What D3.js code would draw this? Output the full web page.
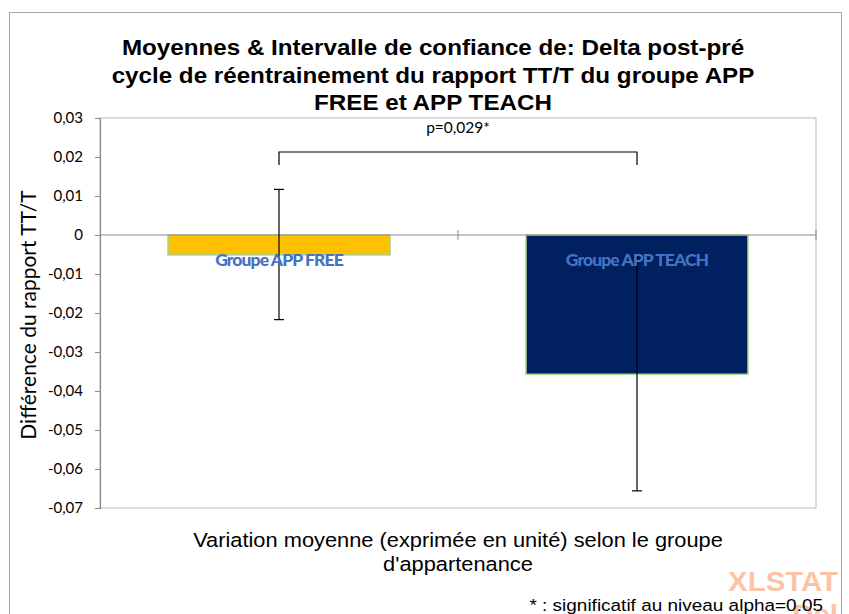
<!DOCTYPE html>
<html><head><meta charset="utf-8">
<script src="https://cdn.jsdelivr.net/npm/d3@7"></script>
<style>body{margin:0;background:#fff;}svg{display:block;}</style>
</head><body>
<svg id="c" width="849" height="614"></svg>
<script>
const categories = ["Groupe APP FREE", "Groupe APP TEACH"];
const means = [-0.0051, -0.0357];
const ciLower = [-0.0217, -0.0656];
const ciUpper = [0.0117, -0.0058];
const yTicks = [0.03, 0.02, 0.01, 0, -0.01, -0.02, -0.03, -0.04, -0.05, -0.06, -0.07];
const barColors = ["#ffc000", "#002060"];
const pLabel = "p=0,029*";
const titleLines = ["Moyennes & Intervalle de confiance de: Delta post-pré", "cycle de réentrainement du rapport TT/T du groupe APP", "FREE et APP TEACH"];
const xTitleLines = ["Variation moyenne (exprimée en unité) selon le groupe", "d'appartenance"];
const yTitle = "Différence du rapport TT/T";
const note = "* : significatif au niveau alpha=0.05";

const svg = d3.select("#c");
const L = 100, R = 816, T = 118, B = 508;
const ARIAL = "'Liberation Sans', Arial, sans-serif";
const CALIBRI = "Lato, 'Open Sans', sans-serif";

// outer frame
svg.append("rect").attr("x", 9.5).attr("y", 12.5).attr("width", 832).attr("height", 620)
  .attr("fill", "none").attr("stroke", "#a6a6a6").attr("stroke-width", 1);

const y = d3.scaleLinear().domain([-0.07, 0.03]).range([B, T]);
const x = d3.scaleBand().domain(categories).range([L, R]).paddingInner(0.38).paddingOuter(0.19);

// plot border
svg.append("rect").attr("x", L).attr("y", T).attr("width", R - L).attr("height", B - T)
  .attr("fill", "none").attr("stroke", "#d0d0d0").attr("stroke-width", 1.5);

// y axis
const fmt = d => d === 0 ? "0" : d3.format(".2f")(d).replace(".", ",").replace("−", "-");
const ya = svg.append("g").attr("transform", `translate(${L},0)`)
  .call(d3.axisLeft(y).tickValues(yTicks).tickSize(5).tickPadding(12).tickFormat(fmt));
ya.select(".domain").attr("stroke", "#8c8c8c").attr("stroke-width", 1.2);
ya.selectAll(".tick line").attr("stroke", "#8c8c8c");
ya.selectAll(".tick text").attr("font-family", CALIBRI).attr("font-size", 15).attr("fill", "#000");

// bars
svg.selectAll("rect.bar").data(categories).enter().append("rect").attr("class", "bar")
  .attr("x", d => x(d)).attr("width", x.bandwidth())
  .attr("y", (d, i) => y(Math.max(0, means[i])))
  .attr("height", (d, i) => Math.abs(y(means[i]) - y(0)))
  .attr("fill", (d, i) => barColors[i]).attr("stroke", "#a9d18e").attr("stroke-width", 1.5);

// zero line with category ticks
svg.append("line").attr("x1", L).attr("x2", R).attr("y1", y(0)).attr("y2", y(0))
  .attr("stroke", "#8c8c8c").attr("stroke-width", 1.2);
const bounds = [x.step() + L, R];
svg.selectAll("line.ct").data(bounds).enter().append("line").attr("class", "ct")
  .attr("x1", d => d).attr("x2", d => d).attr("y1", y(0) - 5).attr("y2", y(0) + 5)
  .attr("stroke", "#8c8c8c").attr("stroke-width", 1);

// error bars
const cx = d => x(d) + x.bandwidth() / 2;
const eb = svg.selectAll("g.eb").data(categories).enter().append("g").attr("class", "eb");
eb.append("line").attr("x1", cx).attr("x2", cx).attr("y1", (d, i) => y(ciUpper[i])).attr("y2", (d, i) => y(ciLower[i]))
  .attr("stroke", "#000").attr("stroke-width", 1.2);
eb.append("line").attr("x1", d => cx(d) - 5).attr("x2", d => cx(d) + 5).attr("y1", (d, i) => y(ciUpper[i])).attr("y2", (d, i) => y(ciUpper[i]))
  .attr("stroke", "#000").attr("stroke-width", 1.2);
eb.append("line").attr("x1", d => cx(d) - 5).attr("x2", d => cx(d) + 5).attr("y1", (d, i) => y(ciLower[i])).attr("y2", (d, i) => y(ciLower[i]))
  .attr("stroke", "#000").attr("stroke-width", 1.2);

// bar labels
svg.selectAll("text.bl").data(categories).enter().append("text").attr("class", "bl")
  .attr("x", cx).attr("y", y(0) + 31).attr("text-anchor", "middle")
  .attr("font-family", CALIBRI).attr("font-weight", "900").attr("font-size", 17.5)
  .attr("letter-spacing", -0.9).attr("fill", "#4472c4").text(d => d);

// p-value bracket
const bx1 = cx(categories[0]), bx2 = cx(categories[1]);
const by = T + 34;
svg.append("path").attr("d", `M${bx1},${by + 13}V${by}H${bx2}V${by + 13}`)
  .attr("fill", "none").attr("stroke", "#000").attr("stroke-width", 1.2);
svg.append("text").attr("x", (bx1 + bx2) / 2).attr("y", T + 15).attr("text-anchor", "middle")
  .attr("font-family", CALIBRI).attr("font-size", 15.5).attr("fill", "#000").text(pLabel);

// helper for horizontally stretched text (Excel-like rendering)
function stretched(g, tx, ty, sx, txt, opts) {
  const t = g.append("text").attr("transform", `translate(${tx},${ty}) scale(${sx},1)`)
    .attr("text-anchor", opts.anchor || "middle").attr("font-family", ARIAL)
    .attr("font-size", opts.size).attr("fill", opts.fill || "#000").text(txt);
  if (opts.bold) t.attr("font-weight", "bold");
  return t;
}

// title
const tg = svg.append("g");
titleLines.forEach((ln, i) => stretched(tg, 433, 55 + i * 27.5, 1.1, ln, {size: 22, bold: true}));

// y title
svg.append("text").attr("transform", `translate(36,${(T + B) / 2 + 2}) rotate(-90)`)
  .attr("text-anchor", "middle").attr("font-family", CALIBRI).attr("font-size", 21)
  .attr("fill", "#000").text(yTitle);

// x title
const xg = svg.append("g");
xTitleLines.forEach((ln, i) => stretched(xg, 458, 547 + i * 24, 1.12, ln, {size: 19.5}));

// watermark
stretched(svg, 838, 591, 1.05, "XLSTAT", {size: 28, bold: true, anchor: "end", fill: "#fbc4a4"});
stretched(svg, 838, 624, 1.05, "Del", {size: 28, bold: true, anchor: "end", fill: "#fbc4a4"});

// note
stretched(svg, 823, 611, 1.15, note, {size: 16.5, anchor: "end"});
</script>
</body></html>
